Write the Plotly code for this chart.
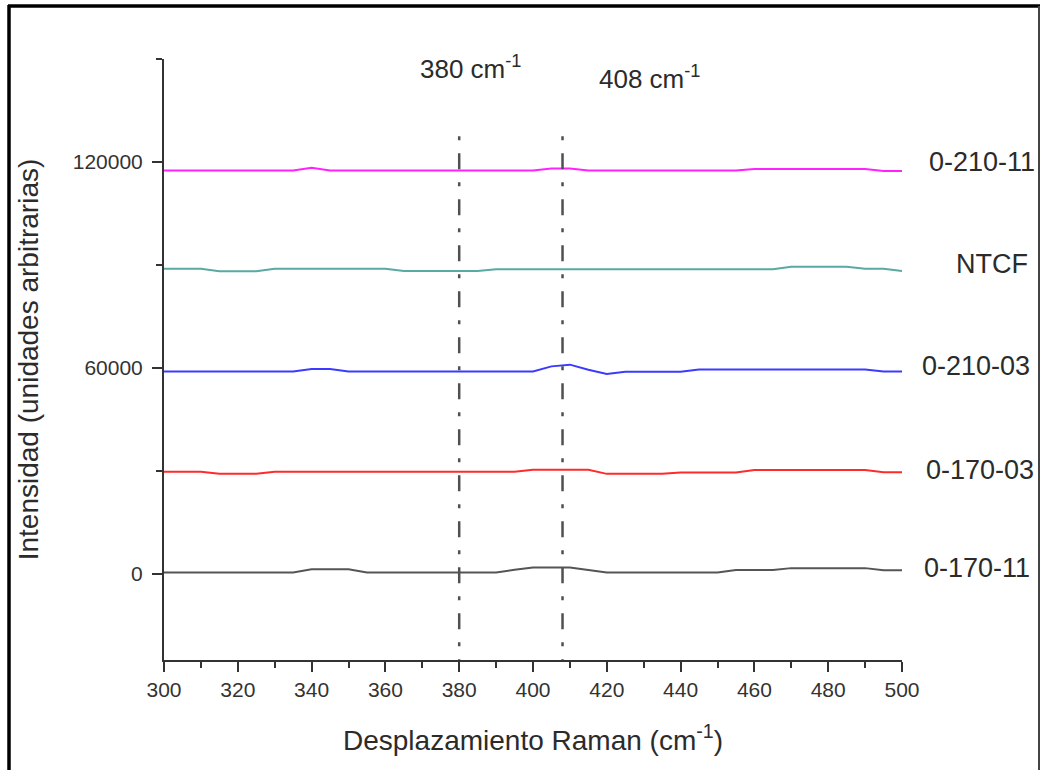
import plotly.graph_objects as go

# ---------------- data ----------------
wavenumber = list(range(300, 505, 5))

s_0_170_11 = [500, 500, 500, 500, 500, 500, 500, 500, 1400, 1400, 1400, 500, 500, 500, 500, 500, 500, 500, 500,
              1250, 1950, 1950, 1950, 1200, 500, 500, 500, 500, 500, 500, 500, 1200, 1200, 1200, 1750, 1750, 1750,
              1750, 1750, 1150, 1150]
s_0_170_03 = [29800, 29800, 29800, 29200, 29200, 29200, 29800, 29800, 29800, 29800, 29800, 29800, 29800, 29800,
              29800, 29800, 29800, 29800, 29800, 29800, 30400, 30400, 30400, 30400, 29200, 29200, 29200, 29200,
              29600, 29600, 29600, 29600, 30300, 30300, 30300, 30300, 30300, 30300, 30300, 29700, 29700]
s_0_210_03 = [59000, 59000, 59000, 59000, 59000, 59000, 59000, 59000, 59700, 59700, 59000, 59000, 59000, 59000,
              59000, 59000, 59000, 59000, 59000, 59000, 59000, 60500, 61000, 59500, 58300, 58900, 58900, 58900,
              58900, 59600, 59600, 59600, 59600, 59600, 59600, 59600, 59600, 59600, 59600, 59000, 59000]
s_ntcf = [88900, 88900, 88900, 88200, 88200, 88200, 88900, 88900, 88900, 88900, 88900, 88900, 88900, 88300,
          88300, 88300, 88300, 88300, 88800, 88800, 88800, 88800, 88800, 88800, 88800, 88800, 88800, 88800,
          88800, 88800, 88800, 88800, 88800, 88800, 89500, 89500, 89500, 89500, 88900, 88900, 88300]
s_0_210_11 = [117500, 117500, 117500, 117500, 117500, 117500, 117500, 117500, 118300, 117500, 117500, 117500,
              117500, 117500, 117500, 117500, 117500, 117500, 117500, 117500, 117500, 118100, 118100, 117500,
              117500, 117500, 117500, 117500, 117500, 117500, 117500, 117500, 118000, 118000, 118000, 118000,
              118000, 118000, 118000, 117400, 117400]

series_names = ["0-170-11", "0-170-03", "0-210-03", "NTCF", "0-210-11"]
series_values = [s_0_170_11, s_0_170_03, s_0_210_03, s_ntcf, s_0_210_11]
series_colors = ["#555555", "#ff2b2b", "#3b3bff", "#5aa9a2", "#ff22ff"]

peak_positions = [380, 408]
peak_labels = ["380 cm<sup>-1</sup>", "408 cm<sup>-1</sup>"]
peak_line_top = 127500

x_range = [300, 500]
y_range = [-25000, 150000]

# ---------------- figure ----------------
fig = go.Figure()
for name, vals, col in zip(series_names, series_values, series_colors):
    fig.add_trace(go.Scatter(x=wavenumber, y=vals, mode="lines", name=name,
                             line=dict(color=col, width=2), showlegend=False))

for p in peak_positions:
    fig.add_trace(go.Scatter(x=[p, p], y=[peak_line_top, y_range[0]], mode="lines",
                             line=dict(color="#505050", width=2.5, dash="4px,13px,16px,13px"),
                             showlegend=False, hoverinfo="skip"))

W, H = 1041, 770
ml, mr, mt, mb = 164, W - 902, 59, H - 660
pw, ph = W - ml - mr, H - mt - mb


def px2paper_x(px):
    return (px - ml) / pw


def px2paper_y(py):
    return (H - mb - py) / ph


font_family = "Liberation Sans, Arial, sans-serif"
text_color = "#2b2b2b"

annotations = []
# peak labels
peak_label_px = [(470, 67), (649, 78)]
for lab, (px, py) in zip(peak_labels, peak_label_px):
    annotations.append(dict(text=lab, xref="paper", yref="paper", x=px2paper_x(px), y=px2paper_y(py),
                            xanchor="center", yanchor="middle", showarrow=False,
                            font=dict(size=26, color=text_color, family=font_family)))

# series labels at right
series_label_px = {"0-210-11": (982, 162), "NTCF": (992, 264), "0-210-03": (976, 366),
                   "0-170-03": (980, 470), "0-170-11": (977, 568)}
for name, (px, py) in series_label_px.items():
    annotations.append(dict(text=name, xref="paper", yref="paper", x=px2paper_x(px), y=px2paper_y(py),
                            xanchor="center", yanchor="middle", showarrow=False,
                            font=dict(size=27, color=text_color, family=font_family)))

shapes = [
    # outer frame
    dict(type="line", xref="paper", yref="paper", x0=px2paper_x(9), x1=px2paper_x(9),
         y0=px2paper_y(5), y1=px2paper_y(775), line=dict(color="black", width=3.5)),
    dict(type="line", xref="paper", yref="paper", x0=px2paper_x(8), x1=px2paper_x(1040),
         y0=px2paper_y(6), y1=px2paper_y(6), line=dict(color="black", width=3.5)),
    dict(type="line", xref="paper", yref="paper", x0=px2paper_x(1039), x1=px2paper_x(1039),
         y0=px2paper_y(6), y1=px2paper_y(775), line=dict(color="#444444", width=2)),
]

fig.update_layout(
    width=W, height=H,
    margin=dict(l=ml, r=mr, t=mt, b=mb),
    paper_bgcolor="white", plot_bgcolor="white",
    font=dict(family=font_family, color=text_color),
    annotations=annotations,
    shapes=shapes,
    xaxis=dict(range=x_range, showgrid=False, zeroline=False, showline=True, linecolor="#333333",
               linewidth=2, ticks="outside", ticklen=10, tickwidth=2, tickcolor="#333333",
               dtick=20, tick0=300,
               minor=dict(dtick=10, ticks="outside", ticklen=6, tickwidth=2, tickcolor="#333333"),
               tickfont=dict(size=21, color="#333333"),
               title=dict(text="Desplazamiento Raman (cm<sup>-1</sup>)", font=dict(size=28), standoff=30)),
    yaxis=dict(range=y_range, showgrid=False, zeroline=False, showline=True, linecolor="#333333",
               linewidth=2, ticks="outside", ticklen=10, tickwidth=2, tickcolor="#333333",
               dtick=60000, tick0=0, tickformat="d", ticklabelstandoff=5,
               minor=dict(dtick=30000, ticks="outside", ticklen=6, tickwidth=2, tickcolor="#333333"),
               tickfont=dict(size=21, color="#333333"),
               title=dict(text="Intensidad (unidades arbitrarias)", font=dict(size=28), standoff=26)),
)

fig.write_html("out.html")
